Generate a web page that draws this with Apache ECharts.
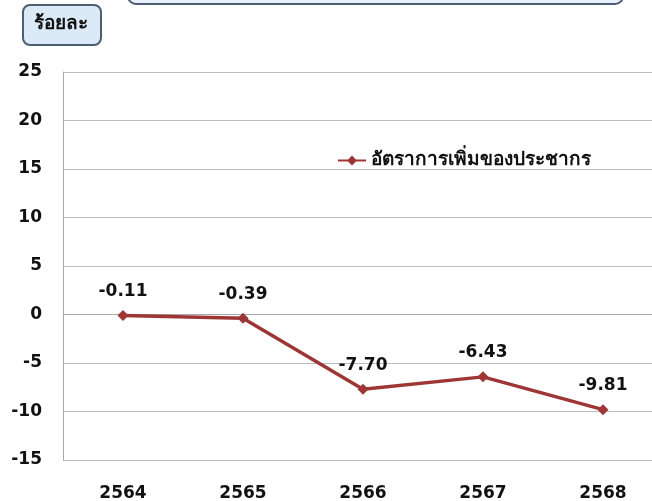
<!DOCTYPE html>
<html>
<head>
<meta charset="utf-8">
<script src="https://cdn.jsdelivr.net/npm/echarts@6/dist/echarts.min.js"></script>
<style>
  html, body { margin: 0; padding: 0; background: #fff; }
  #chart { width: 652px; height: 501px; }
</style>
</head>
<body>
<div id="chart"></div>
<script>
const years = ['2564', '2565', '2566', '2567', '2568'];
const growthRate = [-0.11, -0.39, -7.70, -6.43, -9.81];
const seriesName = 'อัตราการเพิ่มของประชากร';
const unitLabel = 'ร้อยละ';

const font = '"DejaVu Sans", "Noto Sans", sans-serif';
const lineColor = '#9e3636';

let oChart = echarts.init(document.getElementById('chart'));
let option = {
  backgroundColor: '#fff',
  animation: false,
  // plot runs past the right edge of the picture
  grid: { left: 63, width: 600, top: 72, height: 388, containLabel: false, outerBoundsMode: 'none' },
  legend: {
    left: 333, top: 146,
    itemWidth: 28, itemHeight: 10, itemGap: 2,
    textStyle: { fontFamily: font, fontSize: 19, fontWeight: 'bold', color: '#111' },
    data: [{ name: seriesName, icon: 'path://M0,4 L10,4 L14,0 L18,4 L28,4 L28,6 L18,6 L14,10 L10,6 L0,6 Z' }]
  },
  xAxis: {
    type: 'category',
    data: years,
    axisLine: { lineStyle: { color: '#aaa' } },
    axisTick: { show: false },
    axisLabel: { margin: 25, fontFamily: font, fontSize: 17, fontWeight: 'bold', color: '#111' }
  },
  yAxis: {
    type: 'value',
    min: -15, max: 25, interval: 5,
    axisLine: { show: true, lineStyle: { color: '#aaa' } },
    axisTick: { show: false },
    splitLine: { lineStyle: { color: '#bbb' } },
    axisLabel: { margin: 21, fontFamily: font, fontSize: 17, fontWeight: 'bold', color: '#111' }
  },
  series: [{
    name: seriesName,
    type: 'line',
    data: growthRate,
    symbol: 'diamond',
    symbolSize: 11,
    lineStyle: { color: lineColor, width: 3.5 },
    itemStyle: { color: lineColor },
    label: {
      show: true, position: 'top', distance: 10,
      fontFamily: font, fontSize: 17, fontWeight: 'bold', color: '#111',
      formatter: p => p.value.toFixed(2)
    }
  }],
  graphic: [
    {
      type: 'rect', left: 127, top: -20,
      shape: { width: 495, height: 23, r: 8 },
      style: { fill: '#e8f1fb', stroke: '#4d5d73', lineWidth: 2 }
    },
    {
      type: 'rect', left: 22, top: 4,
      shape: { width: 78, height: 40, r: 7 },
      style: { fill: '#dceaf7', stroke: '#4d5d73', lineWidth: 2 }
    },
    {
      type: 'text', x: 61, y: 24,
      style: { text: unitLabel, fontFamily: font, fontSize: 19, fontWeight: 'bold', fill: '#111', align: 'center', verticalAlign: 'middle' }
    }
  ]
};
oChart.setOption(option);
</script>
</body>
</html>
